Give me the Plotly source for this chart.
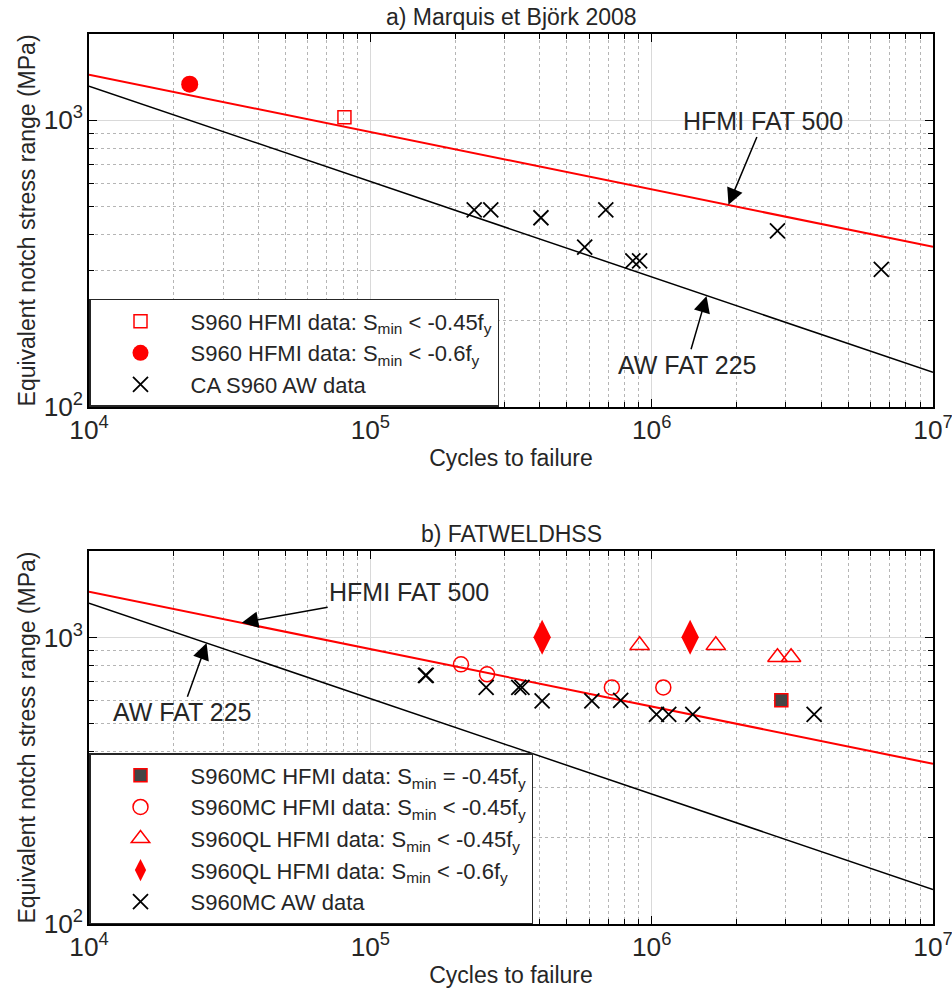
import numpy as np
import plotly.graph_objects as go
from plotly.subplots import make_subplots

# ---------------- data ----------------
# FAT design lines (endpoints at 1e4 and 1e7 cycles)
fat_n = [1e4, 1e7]
hfmi_fat500 = [1443, 362]
aw_fat225 = [1316, 132]

# a) Marquis et Björk 2008
a_sq_n = [80900]
a_sq_s = [1025]
a_circ_n = [22800]
a_circ_s = [1337]
a_aw_n = [234000, 268000, 404000, 687000, 578000, 857000, 906000, 2.80e6, 6.55e6]
a_aw_s = [487, 487, 457, 487, 361, 323, 323, 411, 302]

# b) FATWELDHSS
b_mc_eq_n = [2.89e6]
b_mc_eq_s = [603]
b_mc_lt_n = [210000, 260000, 722000, 1.10e6]
b_mc_lt_s = [805, 743, 669, 669]
b_ql_lt_n = [906000, 1.69e6, 2.80e6, 3.13e6]
b_ql_lt_s = [938, 938, 852, 852]
b_ql_06_n = [408000, 1.37e6]
b_ql_06_s = [1000, 1000]
b_aw_n = [157000, 158000, 258000, 337000, 346000, 408000, 613000, 776000, 1.04e6, 1.15e6, 1.40e6, 3.78e6]
b_aw_s = [737, 737, 669, 669, 669, 600, 600, 603, 539, 539, 539, 539]

RED = "#ff0000"
FONT = "Arial, Liberation Sans, sans-serif"
TXT = "#262626"

fig = make_subplots(rows=2, cols=1, vertical_spacing=0.16)

# top panel
fig.add_trace(go.Scatter(x=fat_n, y=hfmi_fat500, mode="lines", line=dict(color=RED, width=2),
                         showlegend=False, hoverinfo="skip"), row=1, col=1)
fig.add_trace(go.Scatter(x=fat_n, y=aw_fat225, mode="lines", line=dict(color="black", width=1.5),
                         showlegend=False, hoverinfo="skip"), row=1, col=1)
fig.add_trace(go.Scatter(x=a_sq_n, y=a_sq_s, mode="markers", legend="legend",
                         name="S960 HFMI data: S<sub>min</sub> &lt; -0.45f<sub>y</sub>",
                         marker=dict(symbol="square-open", size=13, color=RED, line=dict(width=1.5))),
              row=1, col=1)
fig.add_trace(go.Scatter(x=a_circ_n, y=a_circ_s, mode="markers", legend="legend",
                         name="S960 HFMI data: S<sub>min</sub> &lt; -0.6f<sub>y</sub>",
                         marker=dict(symbol="circle", size=17, color=RED)),
              row=1, col=1)
fig.add_trace(go.Scatter(x=a_aw_n, y=a_aw_s, mode="markers", legend="legend",
                         name="CA S960 AW data",
                         marker=dict(symbol="x-thin-open", size=15, color="black",
                                     line=dict(width=1.8, color="black"))),
              row=1, col=1)

# bottom panel
fig.add_trace(go.Scatter(x=fat_n, y=hfmi_fat500, mode="lines", line=dict(color=RED, width=2),
                         showlegend=False, hoverinfo="skip"), row=2, col=1)
fig.add_trace(go.Scatter(x=fat_n, y=aw_fat225, mode="lines", line=dict(color="black", width=1.5),
                         showlegend=False, hoverinfo="skip"), row=2, col=1)
fig.add_trace(go.Scatter(x=b_mc_eq_n, y=b_mc_eq_s, mode="markers", legend="legend2",
                         name="S960MC HFMI data: S<sub>min</sub> = -0.45f<sub>y</sub>",
                         marker=dict(symbol="square", size=13, color="#444444",
                                     line=dict(width=1.5, color=RED))),
              row=2, col=1)
fig.add_trace(go.Scatter(x=b_mc_lt_n, y=b_mc_lt_s, mode="markers", legend="legend2",
                         name="S960MC HFMI data: S<sub>min</sub> &lt; -0.45f<sub>y</sub>",
                         marker=dict(symbol="circle-open", size=15, color=RED, line=dict(width=1.5))),
              row=2, col=1)
fig.add_trace(go.Scatter(x=b_ql_lt_n, y=b_ql_lt_s, mode="markers", legend="legend2",
                         name="S960QL HFMI data: S<sub>min</sub> &lt; -0.45f<sub>y</sub>",
                         marker=dict(symbol="triangle-up-open", size=17, color=RED, line=dict(width=1.5))),
              row=2, col=1)
fig.add_trace(go.Scatter(x=b_ql_06_n, y=b_ql_06_s, mode="markers", legend="legend2",
                         name="S960QL HFMI data: S<sub>min</sub> &lt; -0.6f<sub>y</sub>",
                         marker=dict(symbol="diamond-tall", size=25, color=RED)),
              row=2, col=1)
fig.add_trace(go.Scatter(x=b_aw_n, y=b_aw_s, mode="markers", legend="legend2",
                         name="S960MC AW data",
                         marker=dict(symbol="x-thin-open", size=15, color="black",
                                     line=dict(width=1.8, color="black"))),
              row=2, col=1)

axis_common = dict(
    type="log", showline=True, linecolor="black", linewidth=1.5, mirror="ticks",
    ticks="inside", ticklen=8, tickcolor="black", tickwidth=1,
    showgrid=True, gridcolor="#d9d9d9", gridwidth=1.2,
    exponentformat="power", dtick=1, zeroline=False,
    ticklabeloverflow="allow", automargin=False,
    tickfont=dict(family=FONT, size=21, color=TXT),
    minor=dict(ticks="inside", ticklen=5, tickcolor="black", showgrid=True,
               gridcolor="#b5b5b5", griddash="dot", gridwidth=1.2),
)

for r in (1, 2):
    fig.update_xaxes(axis_common, range=[4, 7], row=r, col=1,
                     title=dict(text="Cycles to failure", font=dict(family=FONT, size=23, color=TXT),
                                standoff=6))
    fig.update_yaxes(axis_common, range=[2, np.log10(2000)], row=r, col=1,
                     title=dict(text="Equivalent notch stress range (MPa)",
                                font=dict(family=FONT, size=23, color=TXT), standoff=2))

legend_style = dict(xanchor="left", yanchor="bottom",
                    bgcolor="white", bordercolor=TXT, borderwidth=1.5,
                    font=dict(family=FONT, size=22, color=TXT),
                    itemwidth=90, tracegroupgap=0)

fig.update_layout(
    width=952, height=1001,
    margin=dict(l=89, r=19, t=34, b=77, autoexpand=False),
    paper_bgcolor="white", plot_bgcolor="white",
    font=dict(family=FONT, color=TXT),
    legend=dict(legend_style, x=0, y=0.581),
    legend2=dict(legend_style, x=0, y=0),
)
fig.update_layout(xaxis=dict(domain=[0, 1]), yaxis=dict(domain=[0.581, 1.0]),
                  xaxis2=dict(domain=[0, 1]), yaxis2=dict(domain=[0, 0.419]))

# titles
titles = [("a) Marquis et Björk 2008", 1.0), ("b) FATWELDHSS", 0.419)]
for txt, yy in titles:
    fig.add_annotation(text=txt, xref="paper", yref="paper", x=0.5, y=yy, yshift=2,
                       xanchor="center", yanchor="bottom", showarrow=False,
                       font=dict(family=FONT, size=23, color=TXT))

# arrow annotations (positions in log10 data units)
arrows = [
    ("HFMI FAT 500", "x", "y", 6.273, 2.705, 6.397, 2.996),
    ("AW FAT 225", "x", "y", 6.195, 2.387, 6.124, 2.147),
    ("HFMI FAT 500", "x2", "y2", 4.543, 3.051, 5.138, 3.157),
    ("AW FAT 225", "x2", "y2", 4.418, 2.980, 4.330, 2.739),
]
for txt, xr, yr, tx, ty, lx, ly in arrows:
    fig.add_annotation(text=txt, xref=xr, yref=yr, x=tx, y=ty, ax=lx, ay=ly,
                       axref=xr, ayref=yr, showarrow=True, arrowhead=2, arrowsize=2.2,
                       arrowwidth=1.5, arrowcolor="black", standoff=0,
                       font=dict(family=FONT, size=25, color=TXT), bgcolor="rgba(0,0,0,0)")

fig.write_html("out.html")
